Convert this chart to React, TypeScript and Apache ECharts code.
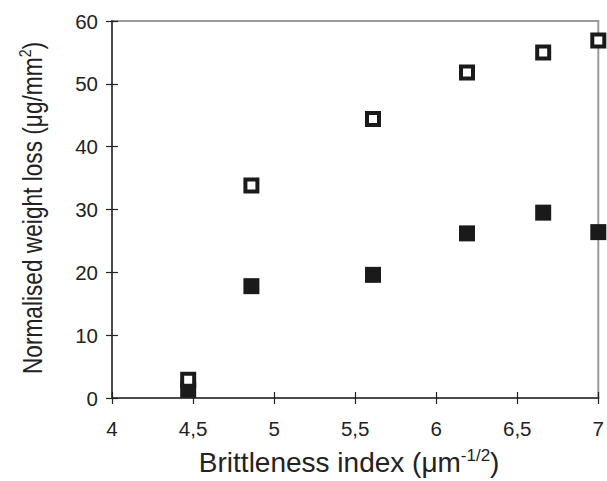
import React, { useEffect, useRef } from "react";
import * as echarts from "echarts";

const brittleness = [4.47, 4.86, 5.61, 6.19, 6.66, 7.0];
const openSeries = [2.9, 33.8, 44.4, 51.8, 55.0, 56.9];
const filledSeries = [1.3, 17.8, 19.6, 26.2, 29.5, 26.4];

const FONT = "Liberation Sans, Arial, sans-serif";

export default function App() {
  const ref = useRef<HTMLDivElement>(null);
  useEffect(() => {
    const chart = echarts.init(ref.current!, null, { renderer: "svg" });
    const axisLine = { lineStyle: { color: "#4a4a4a", width: 2 } };
    const label = { color: "#222", fontSize: 20.5, fontFamily: FONT };
    const tick = { color: "#222", width: 1.2 };
    const xBase = { type: "value", min: 4, max: 7, interval: 0.5, position: "bottom", splitLine: { show: false } };
    const yBase = { type: "value", min: 0, max: 60, interval: 10, position: "left", splitLine: { show: false } };
    chart.setOption({
      animation: false,
      backgroundColor: "#fff",
      grid: { left: 112, right: 8, top: 21, bottom: 83, show: true, borderColor: "#9a9a9a", borderWidth: 2, backgroundColor: "transparent" },
      graphic: [
        {
          type: "text",
          x: 31,
          y: 208,
          rotation: Math.PI / 2,
          scaleX: 0.84,
          style: {
            text: "{a|Normalised weight loss (μg/mm}{s|2}{a|)}",
            align: "center",
            verticalAlign: "middle",
            fill: "#222",
            fontFamily: FONT,
            fontSize: 27,
            rich: {
              a: { fontSize: 27, fill: "#222", fontFamily: FONT, verticalAlign: "bottom" },
              s: { fontSize: 17, fill: "#222", fontFamily: FONT, verticalAlign: "top", padding: [0, 0, 12, 0] },
            },
          },
        },
      ],
      xAxis: [
        {
          ...xBase,
          axisLine,
          axisTick: { show: true, inside: false, length: 6, lineStyle: tick },
          axisLabel: { ...label, margin: 20, formatter: (v: number) => String(v).replace(".", ",") },
          name: "{a|Brittleness index (μm}{s|-1/2}{a|)}",
          nameLocation: "middle",
          nameGap: 49,
          nameTextStyle: {
            padding: [0, 12, 0, 0],
            rich: {
              a: { fontSize: 28, color: "#222", fontFamily: FONT, verticalAlign: "bottom" },
              s: { fontSize: 17, color: "#222", fontFamily: FONT, verticalAlign: "top", padding: [0, 0, 12, 0] },
            },
          },
        },
        {
          ...xBase,
          axisLine: { show: false },
          axisTick: { show: true, inside: true, length: 6, lineStyle: tick },
          axisLabel: { show: false },
        },
      ],
      yAxis: [
        {
          ...yBase,
          axisLine,
          axisTick: { show: true, inside: false, length: 6, lineStyle: tick },
          axisLabel: { ...label, margin: 14 },
        },
        {
          ...yBase,
          axisLine: { show: false },
          axisTick: { show: true, inside: true, length: 6, lineStyle: tick },
          axisLabel: { show: false },
        },
      ],
      series: [
        {
          type: "scatter",
          data: brittleness.map((x, i) => [x, filledSeries[i]]),
          symbol: "rect",
          symbolSize: 16,
          clip: false,
          itemStyle: { color: "#1a1a1a", opacity: 1 },
          z: 3,
        },
        {
          type: "scatter",
          data: brittleness.map((x, i) => [x, openSeries[i]]),
          symbol: "rect",
          symbolSize: 12,
          clip: false,
          itemStyle: { color: "#fff", borderColor: "#1a1a1a", borderWidth: 4, opacity: 1 },
          z: 4,
        },
      ],
    });
    return () => chart.dispose();
  }, []);
  return <div ref={ref} style={{ width: 607, height: 481, position: "absolute", left: 0, top: 0 }} />;
}
